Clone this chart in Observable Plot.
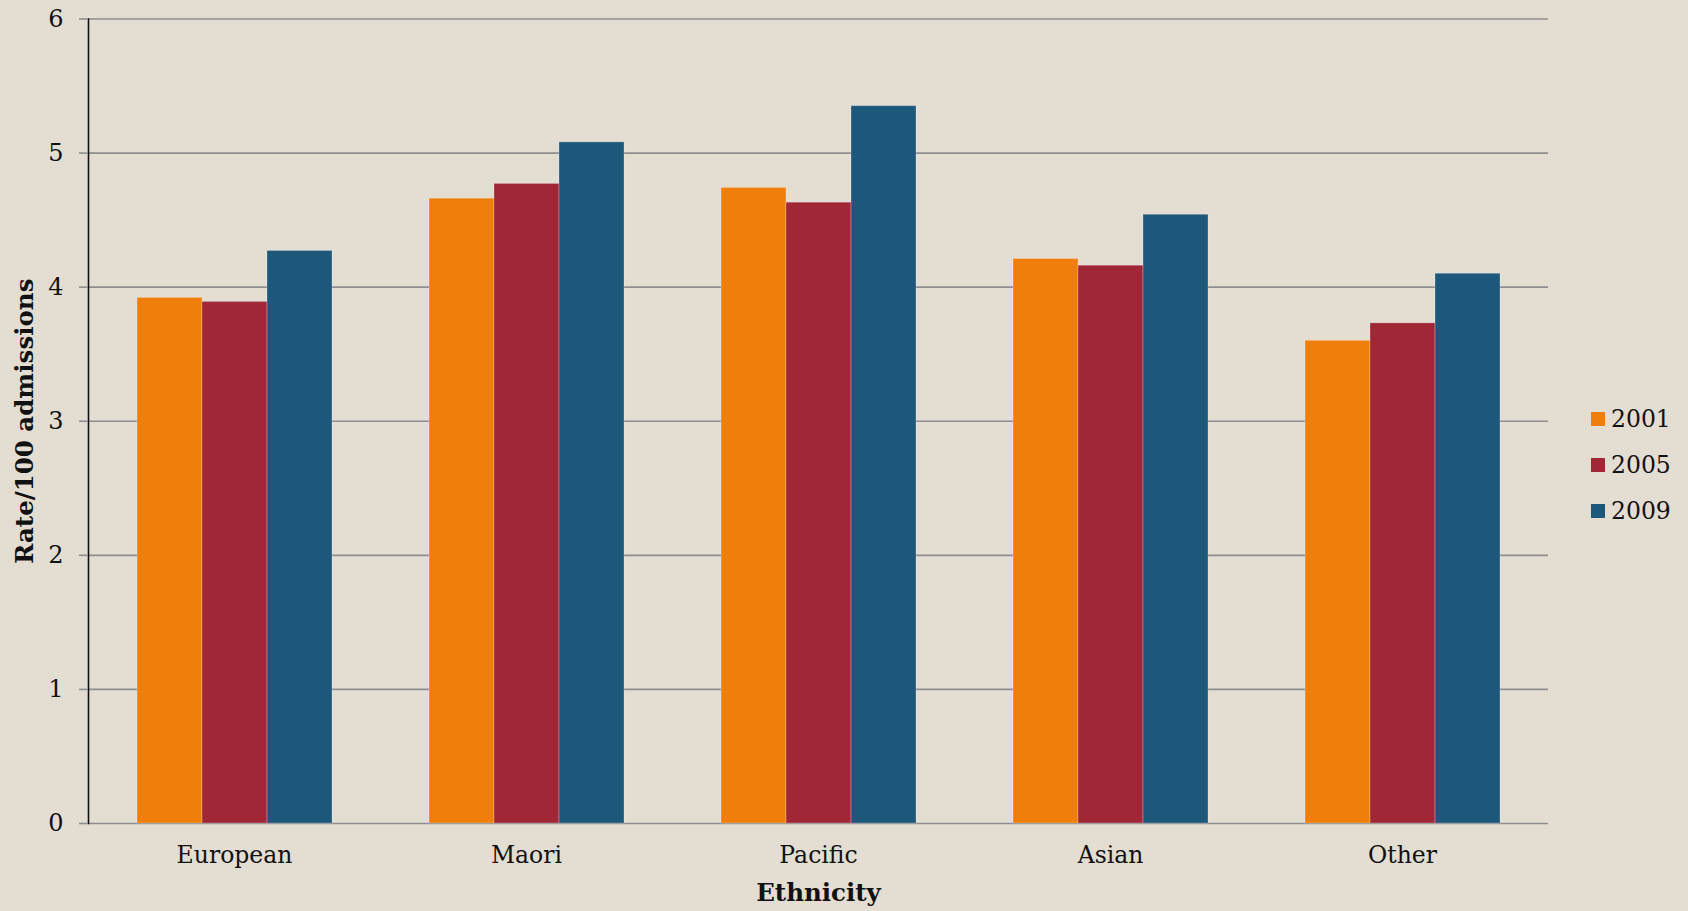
<!DOCTYPE html>
<html>
<head>
<meta charset="utf-8">
<script src="https://cdn.jsdelivr.net/npm/d3@7"></script>
<script src="https://cdn.jsdelivr.net/npm/@observablehq/plot@0.6"></script>
<style>
  body { margin: 0; background: #e3ddd2; }
  #chart { position: relative; width: 1688px; height: 911px; font-family: "DejaVu Serif", serif; color: #111; }
  #chart svg g[aria-label="y-grid"] line { stroke: #8e8e8e; stroke-opacity: 1; stroke-width: 1.6; }
  #chart svg g[aria-label="y-axis tick"] path,
  #chart svg g[aria-label="y-axis tick"] line { stroke: #8e8e8e; stroke-opacity: 1; stroke-width: 1.6; }
  #chart svg [aria-label="frame"] { stroke: #8e8e8e; stroke-opacity: 1; stroke-width: 1.6; }
  #chart svg g[aria-label="y-axis tick label"] text { font-size: 24px; }
  #chart svg g[aria-label="y-axis label"] text,
  #chart svg g[aria-label="fx-axis label"] text { font-weight: bold; font-size: 24.5px; }
  #legend { position: absolute; left: 1591px; top: 396px; font-size: 23.5px; }
  #legend .row { display: flex; align-items: center; height: 46px; }
  #legend .sw { width: 14px; height: 14px; margin-right: 6px; }
</style>
</head>
<body>
<div id="chart"></div>
<script>
// Admission rates per 100 admissions, by ethnicity and year
const ethnicities = ["European", "Maori", "Pacific", "Asian", "Other"];
const years = ["2001", "2005", "2009"];
const rate2001 = [3.92, 4.66, 4.74, 4.21, 3.60];
const rate2005 = [3.89, 4.77, 4.63, 4.16, 3.73];
const rate2009 = [4.27, 5.08, 5.35, 4.54, 4.10];
const yearColors = ["#ef7f0a", "#a02736", "#1d587b"];
const yTicks = [0, 1, 2, 3, 4, 5, 6];

const seriesByYear = [rate2001, rate2005, rate2009];
const rows = [];
ethnicities.forEach((eth, i) => {
  years.forEach((yr, j) => rows.push({ethnicity: eth, year: yr, rate: seriesByYear[j][i]}));
});

const chart = Plot.plot({
  width: 1688,
  height: 911,
  marginLeft: 88,
  marginRight: 140,
  marginTop: 18.5,
  marginBottom: 88,
  style: {background: "transparent", fontFamily: "DejaVu Serif", fontSize: "23.5px", color: "#111", overflow: "visible"},
  fx: {domain: ethnicities, padding: 0, axis: "bottom", tickSize: 0, tickPadding: 23,
       label: "Ethnicity", labelAnchor: "center", labelOffset: 77, labelArrow: "none"},
  x: {domain: years, paddingInner: 0, paddingOuter: 0.746, axis: null},
  y: {domain: [0, 6], ticks: yTicks, tickFormat: d3.format("d"), grid: true, line: true, tickSize: 9, tickPadding: 16,
      label: "Rate/100 admissions", labelAnchor: "center", labelOffset: 73, labelArrow: "none"},
  color: {domain: years, range: yearColors},
  marks: [
    Plot.barY(rows, {fx: "ethnicity", x: "year", y: "rate", fill: "year",
                     stroke: "#ffffff", strokeOpacity: 0.25, strokeWidth: 1})
  ]
});

const root = document.getElementById("chart");
root.appendChild(chart);

// Year legend on the right
const legend = document.createElement("div");
legend.id = "legend";
years.forEach((yr, j) => {
  const row = document.createElement("div");
  row.className = "row";
  const sw = document.createElement("span");
  sw.className = "sw";
  sw.style.background = yearColors[j];
  const label = document.createElement("span");
  label.textContent = yr;
  row.appendChild(sw);
  row.appendChild(label);
  legend.appendChild(row);
});
root.appendChild(legend);
</script>
</body>
</html>
